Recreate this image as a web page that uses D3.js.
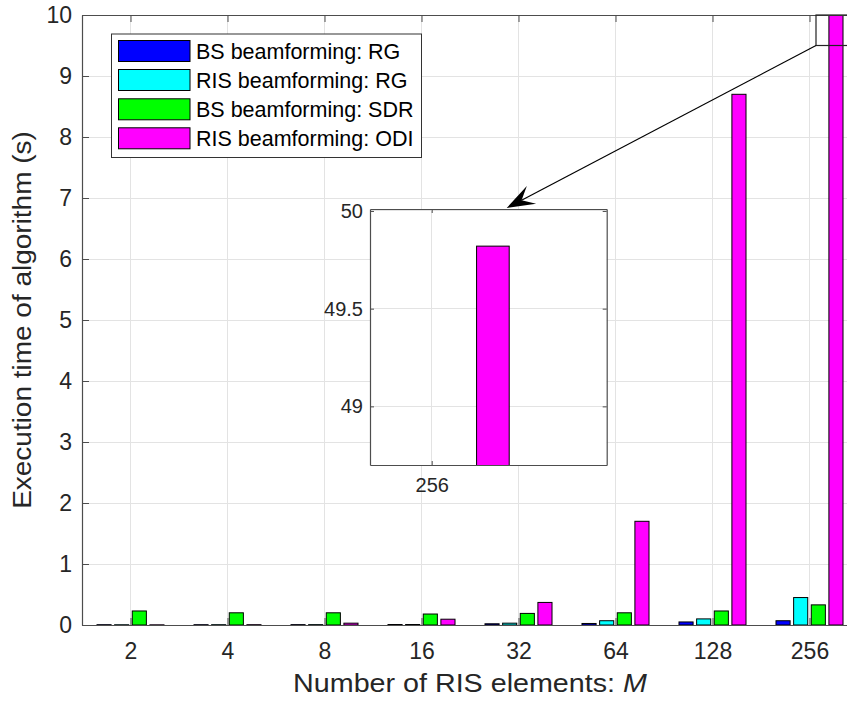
<!DOCTYPE html>
<html>
<head>
<meta charset="utf-8">
<script src="https://cdn.jsdelivr.net/npm/d3@7"></script>
<style>
  html, body { margin: 0; padding: 0; background: #fff; }
  svg { display: block; font-family: "Liberation Sans", Arial, sans-serif; }
</style>
</head>
<body>
<svg id="chart" width="847" height="702"></svg>
<script>
// ---- data ----
const categories = ["2", "4", "8", "16", "32", "64", "128", "256"];
const seriesNames = ["BS beamforming: RG", "RIS beamforming: RG", "BS beamforming: SDR", "RIS beamforming: ODI"];
const bsRG   = [0.005, 0.005, 0.006, 0.008, 0.02, 0.025, 0.05, 0.07];
const risRG  = [0.004, 0.005, 0.006, 0.008, 0.03, 0.07, 0.10, 0.45];
const bsSDR  = [0.23, 0.20, 0.20, 0.18, 0.19, 0.20, 0.23, 0.33];
const risODI = [0.003, 0.005, 0.03, 0.095, 0.37, 1.70, 8.70, 49.82];
const seriesColors = ["#0000ff", "#00ffff", "#00ff00", "#ff00ff"];
const yTicks = [0, 1, 2, 3, 4, 5, 6, 7, 8, 9, 10];
const insetYTicks = [49, 49.5, 50];
const insetXTicks = ["256"];
const xLabel = "Number of RIS elements: ";
const xLabelItalic = "M";
const yLabel = "Execution time of algorithm (s)";

const series = [bsRG, risRG, bsSDR, risODI];

const svg = d3.select("#chart");
const axisColor = "#4d4d4d";
const textColor = "#262626";
const gridColor = "#e3e3e3";

// ---- main scales ----
const x = d3.scaleLinear().domain([0.5, 8.5]).range([82, 858]);
const y = d3.scaleLinear().domain([0, 10]).range([625, 15]);
const nS = series.length;
const groupW = Math.min(0.8, nS / (nS + 1.5));
const barW = 0.8 * groupW / nS;
const offs = d3.range(nS).map(i => (i - (nS - 1) / 2) * groupW / nS);

const defs = svg.append("defs");
defs.append("clipPath").attr("id", "mainClip").append("rect")
  .attr("x", x(0.5)).attr("y", y(10)).attr("width", x(8.5) - x(0.5)).attr("height", y(0) - y(10));

// grid
const gGrid = svg.append("g");
gGrid.selectAll("line.h").data(yTicks).join("line")
  .attr("x1", x(0.5)).attr("x2", x(8.5)).attr("y1", d => y(d)).attr("y2", d => y(d))
  .attr("stroke", gridColor).attr("stroke-width", 1).attr("shape-rendering", "crispEdges");
gGrid.selectAll("line.v").data(categories).join("line")
  .attr("x1", (d, i) => x(i + 1)).attr("x2", (d, i) => x(i + 1)).attr("y1", y(0)).attr("y2", y(10))
  .attr("stroke", gridColor).attr("stroke-width", 1).attr("shape-rendering", "crispEdges");

// bars
const gBars = svg.append("g").attr("clip-path", "url(#mainClip)");
series.forEach((vals, s) => {
  gBars.selectAll(null).data(vals).join("rect")
    .attr("x", (d, i) => x(i + 1 + offs[s] - barW / 2))
    .attr("width", x(barW) - x(0))
    .attr("y", d => y(Math.min(d, 10.5)))
    .attr("height", d => y(0) - y(Math.min(d, 10.5)))
    .attr("fill", seriesColors[s]).attr("stroke", "#000").attr("stroke-width", 1);
});

// axes frame
const xAxisB = d3.axisBottom(x).tickValues(d3.range(1, 9)).tickFormat((d) => categories[d - 1]).tickSizeInner(-7).tickSizeOuter(0).tickPadding(18);
const xAxisT = d3.axisTop(x).tickValues(d3.range(1, 9)).tickFormat("").tickSizeInner(-7).tickSizeOuter(0);
const yAxisL = d3.axisLeft(y).tickValues(yTicks).tickSizeInner(-7).tickSizeOuter(0).tickPadding(10);
const yAxisR = d3.axisRight(y).tickValues(yTicks).tickFormat("").tickSizeInner(-7).tickSizeOuter(0);

function styleAxis(g, fs) {
  g.select(".domain").attr("stroke", axisColor).attr("stroke-width", 1.2);
  g.selectAll(".tick line").attr("stroke", axisColor).attr("stroke-width", 1);
  g.selectAll(".tick text").attr("fill", textColor).attr("font-size", fs).attr("font-family", "Liberation Sans, Arial, sans-serif");
}
svg.append("g").attr("transform", `translate(0,${y(0)})`).call(xAxisB).call(g => styleAxis(g, 23));
svg.append("g").attr("transform", `translate(0,${y(10)})`).call(xAxisT).call(g => styleAxis(g, 23));
svg.append("g").attr("transform", `translate(${x(0.5)},0)`).call(yAxisL).call(g => styleAxis(g, 23));
svg.append("g").attr("transform", `translate(${x(8.5)},0)`).call(yAxisR).call(g => styleAxis(g, 23));

// axis labels
const xl = svg.append("text").attr("fill", textColor).attr("font-size", 25)
  .attr("text-anchor", "middle");
xl.append("tspan").text(xLabel);
xl.append("tspan").attr("font-style", "italic").text(xLabelItalic);
(function fitX() {
  const w = xl.node().getComputedTextLength();
  const sx = 354 / w;
  xl.attr("transform", `translate(470,692) scale(${sx},1)`);
})();
const yl = svg.append("text").attr("fill", textColor).attr("font-size", 25)
  .attr("text-anchor", "middle").text(yLabel);
(function fitY() {
  const w = yl.node().getComputedTextLength();
  const sx = 378 / w;
  yl.attr("transform", `translate(31,320) rotate(-90) scale(${sx},1)`);
})();

// legend
const lg = svg.append("g");
lg.append("rect").attr("x", 111.5).attr("y", 34).attr("width", 310).attr("height", 123.5)
  .attr("fill", "#fff").attr("stroke", "#333").attr("stroke-width", 1);
const rowY = [51, 80, 109.3, 138.3];
seriesNames.forEach((n, i) => {
  lg.append("rect").attr("x", 118.5).attr("y", rowY[i] - 10.5).attr("width", 71.5).attr("height", 21)
    .attr("fill", seriesColors[i]).attr("stroke", "#000").attr("stroke-width", 1);
  lg.append("text").attr("x", 196).attr("y", rowY[i]).attr("dy", "0.36em")
    .attr("font-size", 21.5).attr("fill", "#000").text(n);
});

// zoom rectangle on main chart
svg.append("rect").attr("x", x(8.067)).attr("y", y(10)).attr("width", x(8.78) - x(8.067)).attr("height", y(9.5) - y(10))
  .attr("fill", "none").attr("stroke", "#222").attr("stroke-width", 1.2);

// ---- inset ----
const ix = d3.scaleLinear().domain([7.725, 8.78]).range([370, 606.7]);
const iy = d3.scaleLinear().domain([48.7, 50.01]).range([465, 209]);
defs.append("clipPath").attr("id", "insetClip").append("rect")
  .attr("x", 370).attr("y", 209).attr("width", 236.7).attr("height", 256);
const gi = svg.append("g");
gi.append("rect").attr("x", 370).attr("y", 209).attr("width", 236.7).attr("height", 256).attr("fill", "#fff");
gi.selectAll("line.h").data(insetYTicks).join("line")
  .attr("x1", 370).attr("x2", 606.7).attr("y1", d => iy(d)).attr("y2", d => iy(d))
  .attr("stroke", gridColor).attr("shape-rendering", "crispEdges");
gi.append("line").attr("x1", ix(8)).attr("x2", ix(8)).attr("y1", 209).attr("y2", 465)
  .attr("stroke", gridColor).attr("shape-rendering", "crispEdges");
const gib = gi.append("g").attr("clip-path", "url(#insetClip)");
series.forEach((vals, s) => {
  const d = vals[7];
  gib.append("rect")
    .attr("x", ix(8 + offs[s] - barW / 2)).attr("width", ix(barW) - ix(0))
    .attr("y", iy(Math.min(d, 50.5))).attr("height", Math.max(0, iy(48.7) - iy(Math.min(d, 50.5)) + 2))
    .attr("fill", seriesColors[s]).attr("stroke", "#000").attr("stroke-width", 1);
});
const ixB = d3.axisBottom(ix).tickValues([8]).tickFormat(() => insetXTicks[0]).tickSizeInner(-4).tickSizeOuter(0).tickPadding(13);
const ixT = d3.axisTop(ix).tickValues([8]).tickFormat("").tickSizeInner(-4).tickSizeOuter(0);
const iyL = d3.axisLeft(iy).tickValues(insetYTicks).tickFormat(d3.format("")).tickSizeInner(-4).tickSizeOuter(0).tickPadding(7);
const iyR = d3.axisRight(iy).tickValues(insetYTicks).tickFormat("").tickSizeInner(-4).tickSizeOuter(0);
gi.append("g").attr("transform", "translate(0,465)").call(ixB).call(g => styleAxis(g, 20));
gi.append("g").attr("transform", "translate(0,209)").call(ixT).call(g => styleAxis(g, 20));
gi.append("g").attr("transform", "translate(370,0)").call(iyL).call(g => styleAxis(g, 20));
gi.append("g").attr("transform", "translate(606.7,0)").call(iyR).call(g => styleAxis(g, 20));

// arrow from zoom box to inset
const ax0 = x(8.067), ay0 = y(9.5);
const ax1 = 506.7, ay1 = 208;
const ang = Math.atan2(ay1 - ay0, ax1 - ax0);
const hl = 28, hw = 10;
const bx = ax1 - hl * Math.cos(ang), by = ay1 - hl * Math.sin(ang);
const px = -Math.sin(ang), py = Math.cos(ang);
const mx = ax1 - hl * 0.6 * Math.cos(ang), my = ay1 - hl * 0.6 * Math.sin(ang);
svg.append("line").attr("x1", ax0).attr("y1", ay0).attr("x2", mx).attr("y2", my)
  .attr("stroke", "#000").attr("stroke-width", 1.2);
svg.append("path")
  .attr("d", `M${ax1},${ay1} L${bx + px * hw},${by + py * hw} L${mx},${my} L${bx - px * hw},${by - py * hw} Z`)
  .attr("fill", "#000");
</script>
</body>
</html>
